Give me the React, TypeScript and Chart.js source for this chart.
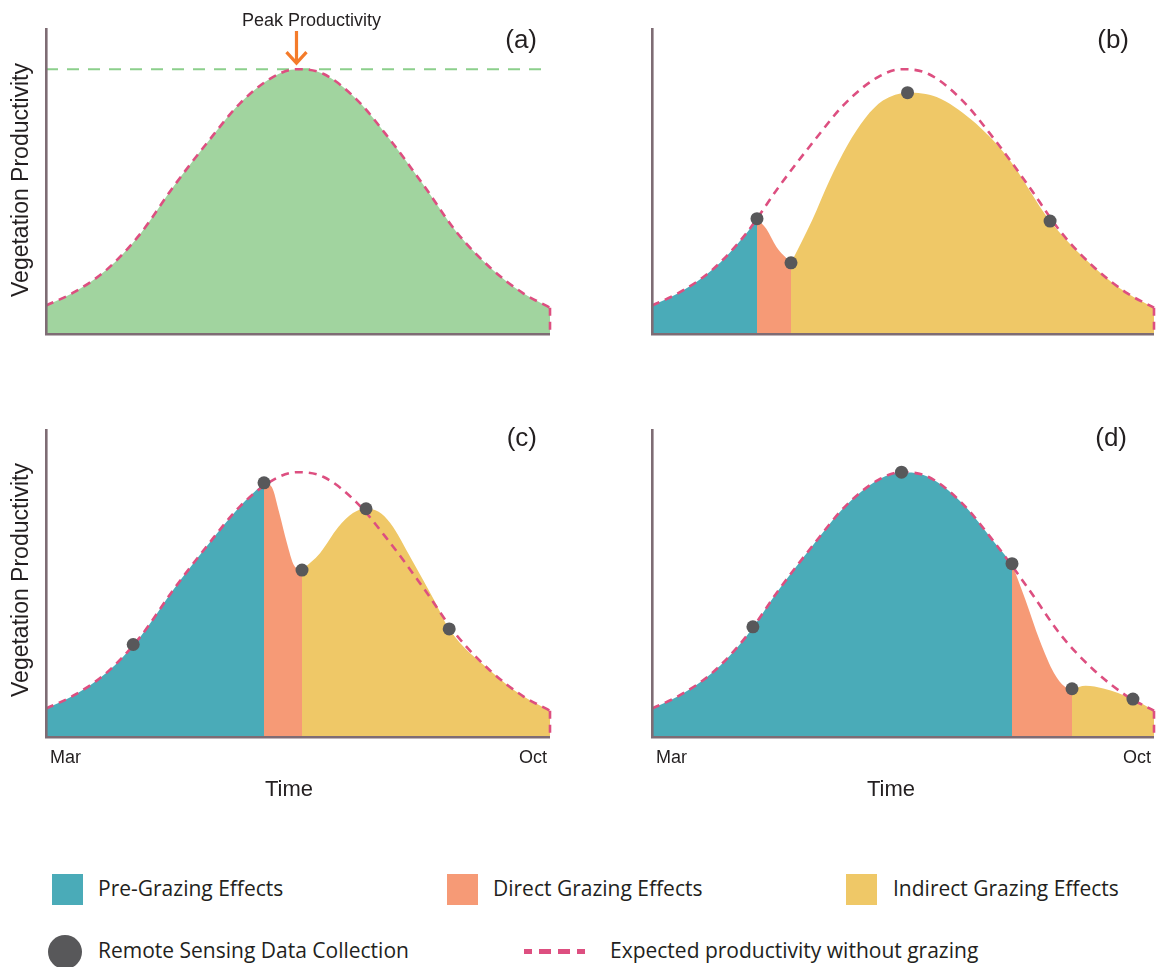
import React, { useEffect, useRef } from "react";
import { Chart, registerables } from "chart.js";

Chart.register(...registerables);

// ---------- Data (x: 0 = Mar, 100 = Oct; y: relative productivity 0..100) ----------
const EXPECTED_X = [0, 5.4, 12, 18.7, 25.3, 31.9, 38.5, 45.1, 49.7, 55, 61.6, 68.3, 74.9, 81.5, 88.1, 94.7, 100];
const EXPECTED_Y = [9, 13.2, 20.7, 32.5, 48, 62.2, 75.3, 84, 86.5, 85, 76.6, 63.3, 48.5, 33, 21.5, 13, 8.3];
const PEAK_X = 49.7;
const PEAK_Y = 86.5;

// panel (b)
const B_PRE_X = [0, 5.4, 12, 18.7, 20.916];
const B_PRE_Y = [9, 13.2, 20.7, 32.5, 37.5];
const B_DIRECT_X = [20.916, 22.8, 24.8, 27.689];
const B_DIRECT_Y = [37.5, 34.1, 28.2, 23];
const B_INDIRECT_X = [27.689, 31.9, 35.4, 38.9, 42.5, 46, 50.9, 56.7, 63.7, 70.8, 79.3, 88.1, 94.7, 100];
const B_INDIRECT_Y = [23, 37, 50.2, 61.5, 70.5, 76.2, 78.8, 77.4, 69.8, 57.7, 36.7, 21.5, 13, 8.3];
const B_SAMPLE_X = [20.916, 27.689, 50.9, 79.3];
const B_SAMPLE_Y = [37.5, 23, 78.8, 36.7];

// panel (c)
const C_PRE_X = [0, 5.4, 12, 18.7, 25.3, 31.9, 38.5, 43.254];
const C_PRE_Y = [9, 13.2, 20.7, 32.5, 48, 62.2, 75.3, 83];
const C_DIRECT_X = [43.254, 44.8, 46.3, 47.8, 49.2, 50.794];
const C_DIRECT_Y = [83, 81.6, 73, 63.3, 56, 54.4];
const C_INDIRECT_X = [50.794, 54.4, 58, 60.9, 63.5, 66, 68.3, 72.6, 77, 80, 88.1, 94.7, 100];
const C_INDIRECT_Y = [54.4, 60, 68.5, 73.1, 74.5, 73.5, 69.8, 57.7, 44.6, 35.1, 21.5, 13, 8.3];
const C_SAMPLE_X = [17.3, 43.254, 50.794, 63.5, 80];
const C_SAMPLE_Y = [30, 83, 54.4, 74.5, 35.1];

// panel (d)
const D_PRE_X = [0, 5.4, 12, 18.7, 25.3, 31.9, 38.5, 45.1, 49.7, 55, 61.6, 68.3, 71.713];
const D_PRE_Y = [9, 13.2, 20.7, 32.5, 48, 62.2, 75.3, 84, 86.5, 85, 76.6, 63.3, 56.5];
const D_DIRECT_X = [71.713, 74.4, 77.2, 80.1, 82.2, 83.665];
const D_DIRECT_Y = [56.5, 44.6, 31.5, 20.6, 16.2, 15.5];
const D_INDIRECT_X = [83.665, 86.4, 89.9, 95.8, 100];
const D_INDIRECT_Y = [15.5, 16.5, 15.6, 12.1, 8.3];
const D_SAMPLE_X = [20.1, 49.7, 71.713, 83.665, 95.8];
const D_SAMPLE_Y = [35.8, 86.5, 56.5, 15.5, 12.1];

const TICK_LABELS = ["Mar", "Oct"];
const LEGEND_ITEMS = ["Pre-Grazing Effects", "Direct Grazing Effects", "Indirect Grazing Effects"];

// ---------- Styles ----------
const TEAL = "#4aabb8";
const ORANGE = "#f69a76";
const YELLOW = "#efc867";
const GREEN = "#a1d49f";
const GREEN_DASH = "#8ccf8c";
const PINK = "#dd4f80";
const DOT = "#58585a";
const AXIS = "#7e6c74";
const ARROW = "#f47b2a";
const TEXT = "#231f20";
const FONT = '"Liberation Sans", Arial, Helvetica, sans-serif';
const LEGEND_FONT = '"Open Sans", "Noto Sans", sans-serif';

const xy = (xs: number[], ys: number[]) => xs.map((x, i) => ({ x, y: ys[i] }));

const fillSet = (xs: number[], ys: number[], color: string) => ({
  type: "line",
  data: xy(xs, ys),
  fill: "origin",
  backgroundColor: color,
  borderColor: color,
  borderWidth: 0,
  pointRadius: 0,
  cubicInterpolationMode: "monotone",
  clip: false,
  order: 5,
});

const expectedSets = () => [
  {
    type: "line",
    data: xy(EXPECTED_X, EXPECTED_Y),
    fill: false,
    borderColor: PINK,
    borderWidth: 2.6,
    borderDash: [8, 6],
    pointRadius: 0,
    cubicInterpolationMode: "monotone",
    clip: false,
    order: 2,
  },
  {
    type: "line",
    data: [
      { x: 100, y: EXPECTED_Y[EXPECTED_Y.length - 1] },
      { x: 100, y: 0 },
    ],
    fill: false,
    borderColor: PINK,
    borderWidth: 2.6,
    borderDash: [8, 6],
    pointRadius: 0,
    tension: 0,
    clip: false,
    order: 2,
  },
];

const sampleSet = (xs: number[], ys: number[]) => ({
  type: "line",
  data: xy(xs, ys),
  showLine: false,
  pointRadius: 6.5,
  pointBackgroundColor: DOT,
  pointBorderColor: DOT,
  pointBorderWidth: 0,
  clip: false,
  order: 0,
});

type PanelCfg = {
  key: string;
  left: number;
  top: number;
  w: number;
  h: number;
  pad: { left: number; top: number; right: number; bottom: number };
  axisTop: number;
  label: string;
  labelRight: number;
  labelBase: number;
  yTitle?: { x: number; y: number };
  time?: { marBase: number; timeBase: number; timeCx: number };
  peak?: boolean;
  datasets: any[];
};

const PANELS: PanelCfg[] = [
  {
    key: "a",
    left: 0,
    top: 0,
    w: 578,
    h: 400,
    pad: { left: 46, top: 28, right: 28, bottom: 67 },
    axisTop: 28,
    label: "(a)",
    labelRight: 537,
    labelBase: 48,
    yTitle: { x: 22, y: 180 },
    peak: true,
    datasets: [
      {
        type: "line",
        data: [
          { x: 0, y: PEAK_Y },
          { x: 100, y: PEAK_Y },
        ],
        fill: false,
        borderColor: GREEN_DASH,
        borderWidth: 2,
        borderDash: [12, 9],
        pointRadius: 0,
        order: 3,
      },
      ...expectedSets(),
      fillSet(EXPECTED_X, EXPECTED_Y, GREEN),
    ],
  },
  {
    key: "b",
    left: 578,
    top: 0,
    w: 578,
    h: 400,
    pad: { left: 74, top: 28, right: 2, bottom: 67 },
    axisTop: 28,
    label: "(b)",
    labelRight: 1129,
    labelBase: 48,
    datasets: [
      sampleSet(B_SAMPLE_X, B_SAMPLE_Y),
      ...expectedSets(),
      fillSet(B_PRE_X, B_PRE_Y, TEAL),
      fillSet(B_DIRECT_X, B_DIRECT_Y, ORANGE),
      fillSet(B_INDIRECT_X, B_INDIRECT_Y, YELLOW),
    ],
  },
  {
    key: "c",
    left: 0,
    top: 400,
    w: 578,
    h: 420,
    pad: { left: 46, top: 31, right: 28, bottom: 84 },
    axisTop: 429,
    label: "(c)",
    labelRight: 537,
    labelBase: 446,
    yTitle: { x: 22, y: 580 },
    time: { marBase: 763, timeBase: 796, timeCx: 289 },
    datasets: [
      sampleSet(C_SAMPLE_X, C_SAMPLE_Y),
      ...expectedSets(),
      fillSet(C_PRE_X, C_PRE_Y, TEAL),
      fillSet(C_DIRECT_X, C_DIRECT_Y, ORANGE),
      fillSet(C_INDIRECT_X, C_INDIRECT_Y, YELLOW),
    ],
  },
  {
    key: "d",
    left: 578,
    top: 400,
    w: 578,
    h: 420,
    pad: { left: 74, top: 31, right: 2, bottom: 84 },
    axisTop: 429,
    label: "(d)",
    labelRight: 1127,
    labelBase: 446,
    time: { marBase: 763, timeBase: 796, timeCx: 891 },
    datasets: [
      sampleSet(D_SAMPLE_X, D_SAMPLE_Y),
      ...expectedSets(),
      fillSet(D_PRE_X, D_PRE_Y, TEAL),
      fillSet(D_DIRECT_X, D_DIRECT_Y, ORANGE),
      fillSet(D_INDIRECT_X, D_INDIRECT_Y, YELLOW),
    ],
  },
];

const panelDeco = {
  id: "panelDeco",
  afterDatasetsDraw(chart: any, _args: any, opts: any) {
    const p: PanelCfg = opts.panel;
    if (!p) return;
    const { ctx, chartArea: ca } = chart;
    ctx.save();
    ctx.strokeStyle = AXIS;
    ctx.lineWidth = 2.6;
    ctx.setLineDash([]);
    ctx.beginPath();
    ctx.moveTo(ca.left + 0.3, p.axisTop - p.top);
    ctx.lineTo(ca.left + 0.3, ca.bottom + 1.2);
    ctx.lineTo(ca.right, ca.bottom + 1.2);
    ctx.stroke();
    ctx.restore();
  },
  afterDraw(chart: any, _args: any, opts: any) {
    const p: PanelCfg = opts.panel;
    if (!p) return;
    const { ctx, chartArea: ca, scales } = chart;
    ctx.save();
    ctx.fillStyle = TEXT;
    // panel label
    ctx.font = `26px ${FONT}`;
    ctx.textAlign = "right";
    ctx.textBaseline = "alphabetic";
    ctx.fillText(p.label, p.labelRight - p.left, p.labelBase - p.top);
    // y title
    if (p.yTitle) {
      ctx.save();
      ctx.translate(p.yTitle.x - p.left, p.yTitle.y - p.top);
      ctx.rotate(-Math.PI / 2);
      ctx.font = `23px ${FONT}`;
      ctx.textAlign = "center";
      ctx.textBaseline = "middle";
      ctx.fillText("Vegetation Productivity", 0, 0);
      ctx.restore();
    }
    // time axis labels
    if (p.time) {
      ctx.font = `18px ${FONT}`;
      ctx.textBaseline = "alphabetic";
      ctx.textAlign = "left";
      ctx.fillText(TICK_LABELS[0], ca.left + 4, p.time.marBase - p.top);
      ctx.textAlign = "right";
      ctx.fillText(TICK_LABELS[1], ca.right - 3, p.time.marBase - p.top);
      ctx.font = `22px ${FONT}`;
      ctx.textAlign = "center";
      ctx.fillText("Time", p.time.timeCx - p.left, p.time.timeBase - p.top);
    }
    // peak annotation
    if (p.peak) {
      const px = scales.x.getPixelForValue(PEAK_X);
      const py = scales.y.getPixelForValue(PEAK_Y);
      ctx.font = `18px ${FONT}`;
      ctx.textAlign = "center";
      ctx.fillText("Peak Productivity", px + 15, 26);
      ctx.strokeStyle = ARROW;
      ctx.lineWidth = 3.2;
      ctx.lineCap = "butt";
      ctx.beginPath();
      ctx.moveTo(px, 31);
      ctx.lineTo(px, py - 6);
      ctx.stroke();
      ctx.beginPath();
      ctx.moveTo(px - 10, py - 17);
      ctx.lineTo(px, py - 6);
      ctx.lineTo(px + 10, py - 17);
      ctx.stroke();
    }
    ctx.restore();
  },
};

function Panel({ cfg }: { cfg: PanelCfg }) {
  const ref = useRef<HTMLCanvasElement | null>(null);
  useEffect(() => {
    if (!ref.current) return;
    const chart = new Chart(ref.current, {
      type: "line",
      data: { datasets: cfg.datasets as any },
      options: {
        animation: false,
        responsive: false,
        devicePixelRatio: 1,
        events: [],
        layout: { padding: cfg.pad, autoPadding: false },
        scales: {
          x: { type: "linear", min: 0, max: 100, display: false },
          y: { type: "linear", min: 0, max: 100, display: false },
        },
        plugins: {
          legend: { display: false },
          tooltip: { enabled: false },
          // @ts-ignore
          panelDeco: { panel: cfg },
        },
      } as any,
      plugins: [panelDeco as any],
    });
    return () => chart.destroy();
  }, [cfg]);
  return (
    <canvas
      ref={ref}
      width={cfg.w}
      height={cfg.h}
      style={{ position: "absolute", left: cfg.left, top: cfg.top, width: cfg.w, height: cfg.h }}
    />
  );
}

const legendText: React.CSSProperties = {
  position: "absolute",
  fontFamily: LEGEND_FONT,
  fontSize: 21,
  color: TEXT,
  whiteSpace: "nowrap",
  lineHeight: "26px",
};

export default function App() {
  const boxes = [
    { color: TEAL, boxLeft: 52, textLeft: 98 },
    { color: ORANGE, boxLeft: 447, textLeft: 493 },
    { color: YELLOW, boxLeft: 846, textLeft: 893 },
  ];
  return (
    <div
      style={{
        position: "absolute",
        left: 0,
        top: 0,
        width: 1156,
        height: 967,
        background: "#ffffff",
        overflow: "hidden",
      }}
    >
      {PANELS.map((p) => (
        <Panel key={p.key} cfg={p} />
      ))}
      {boxes.map((b, i) => (
        <React.Fragment key={i}>
          <div
            style={{
              position: "absolute",
              left: b.boxLeft,
              top: 874,
              width: 31,
              height: 31,
              background: b.color,
            }}
          />
          <div style={{ ...legendText, left: b.textLeft, top: 875 }}>{LEGEND_ITEMS[i]}</div>
        </React.Fragment>
      ))}
      <div
        style={{
          position: "absolute",
          left: 48,
          top: 935,
          width: 34,
          height: 34,
          borderRadius: "50%",
          background: DOT,
        }}
      />
      <div style={{ ...legendText, left: 98, top: 937 }}>Remote Sensing Data Collection</div>
      {[
        [524, 8],
        [539, 12],
        [558, 12],
        [577, 8],
      ].map(([l, w], i) => (
        <div
          key={i}
          style={{ position: "absolute", left: l, top: 949, width: w, height: 5, background: PINK }}
        />
      ))}
      <div style={{ ...legendText, left: 610, top: 937 }}>Expected productivity without grazing</div>
    </div>
  );
}
